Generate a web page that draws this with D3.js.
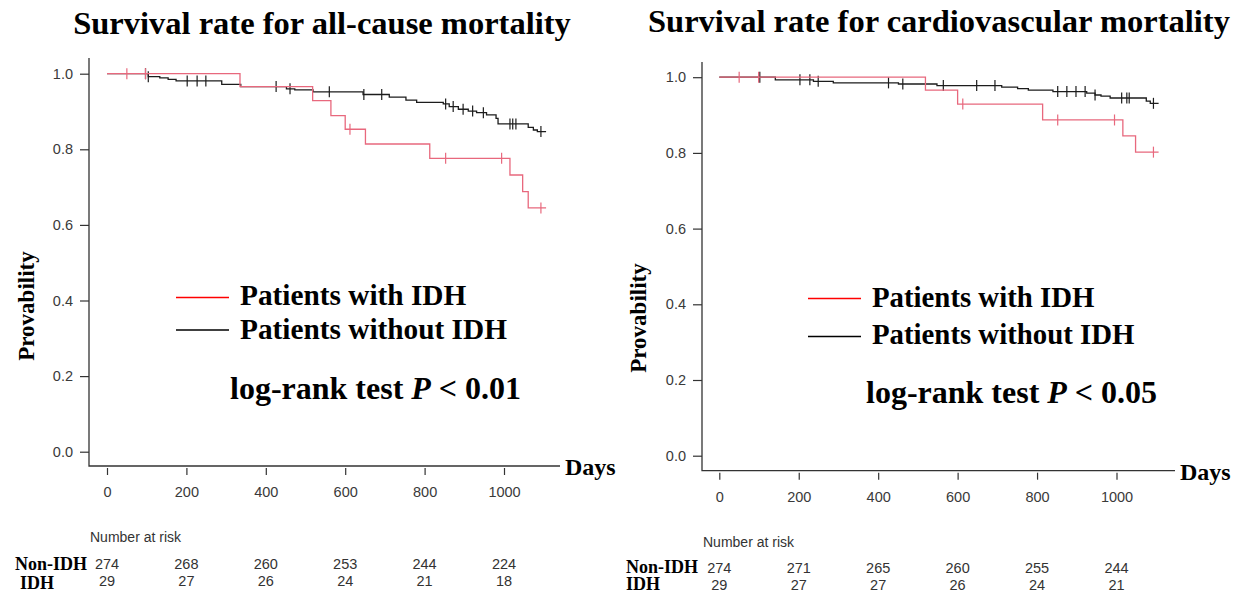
<!DOCTYPE html>
<html>
<head>
<meta charset="utf-8">
<script src="https://cdn.jsdelivr.net/npm/d3@7"></script>
<style>
  body { margin: 0; background: #fff; }
  svg { display: block; }
</style>
</head>
<body>
<svg id="km" width="1236" height="593"></svg>
<script>
// ---- data ----
const xTicks = [0, 200, 400, 600, 800, 1000];
const yTicks = [0, 0.2, 0.4, 0.6, 0.8, 1.0];
const followUpEnd = 1106;

// all-cause mortality: [day, survival after the step]
const allIdhSteps = [[0, 1], [335, 0.966], [518, 0.929], [564, 0.889], [600, 0.853], [651, 0.814],
  [813, 0.776], [1015, 0.732], [1047, 0.688], [1061, 0.645]];
const allIdhCensor = [50, 97, 612, 853, 994, 1093];
const allNonSteps = [[0, 1], [104, 0.992], [133, 0.989], [154, 0.985], [174, 0.981], [289, 0.972],
  [337, 0.966], [452, 0.960], [473, 0.957], [519, 0.952], [645, 0.945], [711, 0.938], [753, 0.930],
  [780, 0.924], [847, 0.920], [862, 0.913], [885, 0.906], [910, 0.901], [931, 0.897], [956, 0.891],
  [980, 0.882], [985, 0.867], [1061, 0.858], [1074, 0.851], [1084, 0.847]];
const allNonCensor = [97, 104, 202, 227, 249, 426, 461, 560, 647, 692, 853, 872, 897, 921, 948, 1015, 1022, 1030, 1093];
const allRiskNon = [274, 268, 260, 253, 244, 224];
const allRiskIdh = [29, 27, 26, 24, 21, 18];

// cardiovascular mortality
const cvIdhSteps = [[0, 1], [519, 0.966], [600, 0.929], [814, 0.887], [1016, 0.845], [1048, 0.802]];
const cvIdhCensor = [50, 99, 613, 852, 995, 1093];
const cvNonSteps = [[0, 1], [141, 0.993], [237, 0.989], [287, 0.985], [451, 0.982], [548, 0.978],
  [711, 0.974], [751, 0.970], [778, 0.966], [840, 0.962], [925, 0.958], [946, 0.953], [961, 0.950],
  [984, 0.945], [1075, 0.937], [1085, 0.931]];
const cvNonCensor = [102, 203, 228, 249, 426, 462, 564, 648, 694, 852, 875, 898, 921, 946, 1013, 1026, 1032, 1093];
const cvRiskNon = [274, 271, 265, 260, 255, 244];
const cvRiskIdh = [29, 27, 27, 26, 24, 21];

const legendLabels = ["Patients with IDH", "Patients without IDH"];
const groupLabels = ["Non-IDH", "IDH"];

const svg = d3.select("#km");
const serif = "'Liberation Serif', 'Times New Roman', serif";
const sans = "'Liberation Sans', Arial, sans-serif";
const redCurve = "#e8687d";
const blackCurve = "#1c1c1c";

const panels = [
  {
    title: "Survival rate for all-cause mortality", titleX: 322, titleY: 34,
    x0: 107, x1: 504, yTop: 73.7, yBot: 451.7,
    axisX: 89, axisTop: 58, axisY: 466, axisEnd: 560,
    idh: allIdhSteps, idhC: allIdhCensor, non: allNonSteps, nonC: allNonCensor,
    riskNon: allRiskNon, riskIdh: allRiskIdh,
    legX1: 176, legX2: 229, legY: [297.5, 330], legTextX: 240, legTextY: [305, 339],
    pText: "0.01", pX: 230, pY: 399, legSize: 29.3,
    ylabX: 34, ylabY: 306,
    nrY: 542, nameY: [570, 589], numY: [568.5, 585.5], nameX: [15, 20]
  },
  {
    title: "Survival rate for cardiovascular mortality", titleX: 939, titleY: 32,
    x0: 719.3, x1: 1116.5, yTop: 77.2, yBot: 455.7,
    axisX: 702, axisTop: 62, axisY: 470.7, axisEnd: 1175,
    idh: cvIdhSteps, idhC: cvIdhCensor, non: cvNonSteps, nonC: cvNonCensor,
    riskNon: cvRiskNon, riskIdh: cvRiskIdh,
    legX1: 808, legX2: 861, legY: [298.5, 336.5], legTextX: 872, legTextY: [307, 344],
    pText: "0.05", pX: 866, pY: 403, legSize: 28.8,
    ylabX: 646, ylabY: 318,
    nrY: 546.5, nameY: [572.5, 590], numY: [572.5, 589.5], nameX: [626, 626]
  }
];

function survAt(steps, day) {
  let s = steps[0][1];
  steps.forEach(d => { if (d[0] <= day) s = d[1]; });
  return s;
}

panels.forEach(p => {
  const g = svg.append("g");
  const x = d3.scaleLinear().domain([0, 1000]).range([p.x0, p.x1]);
  const y = d3.scaleLinear().domain([0, 1]).range([p.yBot, p.yTop]);

  // title
  g.append("text").attr("x", p.titleX).attr("y", p.titleY)
    .attr("text-anchor", "middle").attr("font-family", serif).attr("font-weight", "bold")
    .attr("font-size", "32.5px").attr("fill", "#000").text(p.title);

  // L shaped frame
  g.append("path")
    .attr("d", `M${p.axisX},${p.axisTop}V${p.axisY}H${p.axisEnd}`)
    .attr("fill", "none").attr("stroke", "#333").attr("stroke-width", 1.3);

  // y axis
  const yAxis = g.append("g").attr("transform", `translate(${p.axisX},0)`)
    .call(d3.axisLeft(y).tickValues(yTicks).tickFormat(d3.format(".1f")).tickSize(9).tickPadding(7));
  yAxis.select(".domain").remove();
  yAxis.selectAll("line").attr("stroke", "#333").attr("stroke-width", 1.2);
  yAxis.selectAll("text").attr("font-family", sans).attr("font-size", "14.5px").attr("fill", "#3a3a3a");

  // x axis (ticks hang below the frame)
  const xAxis = g.append("g").attr("transform", `translate(0,${p.axisY + 2})`)
    .call(d3.axisBottom(x).tickValues(xTicks).tickFormat(d3.format("d")).tickSize(7).tickPadding(12));
  xAxis.select(".domain").remove();
  xAxis.selectAll("line").attr("stroke", "#333").attr("stroke-width", 1.2);
  xAxis.selectAll("text").attr("font-family", sans).attr("font-size", "14.5px").attr("fill", "#3a3a3a");

  g.append("text").attr("x", p.axisEnd + 5).attr("y", p.axisY + 9)
    .attr("font-family", serif).attr("font-weight", "bold").attr("font-size", "24px")
    .attr("fill", "#000").text("Days");

  // y label
  g.append("text").attr("transform", `translate(${p.ylabX},${p.ylabY}) rotate(-90)`)
    .attr("text-anchor", "middle").attr("font-family", serif).attr("font-weight", "bold")
    .attr("font-size", "23px").attr("fill", "#000").text("Provability");

  // curves
  const line = d3.line().x(d => x(d[0])).y(d => y(d[1])).curve(d3.curveStepAfter);
  const curves = [
    { steps: p.non, cens: p.nonC, color: blackCurve },
    { steps: p.idh, cens: p.idhC, color: redCurve }
  ];
  curves.forEach(c => {
    const pts = c.steps.concat([[followUpEnd, c.steps[c.steps.length - 1][1]]]);
    g.append("path").datum(pts).attr("d", line)
      .attr("fill", "none").attr("stroke", c.color).attr("stroke-width", 1.3);
    g.selectAll(null).data(c.cens).enter().append("line")
      .attr("x1", d => x(d)).attr("x2", d => x(d))
      .attr("y1", d => y(survAt(c.steps, d)) - 5.5)
      .attr("y2", d => y(survAt(c.steps, d)) + 5.5)
      .attr("stroke", c.color).attr("stroke-width", 1.2);
  });

  // legend
  const legColors = ["#ff0000", "#000"];
  legendLabels.forEach((lab, i) => {
    g.append("line").attr("x1", p.legX1).attr("x2", p.legX2)
      .attr("y1", p.legY[i]).attr("y2", p.legY[i])
      .attr("stroke", legColors[i]).attr("stroke-width", 1.6);
    g.append("text").attr("x", p.legTextX).attr("y", p.legTextY[i])
      .attr("font-family", serif).attr("font-weight", "bold").attr("font-size", p.legSize + "px")
      .attr("fill", "#000").text(lab);
  });

  const pt = g.append("text").attr("x", p.pX).attr("y", p.pY)
    .attr("font-family", serif).attr("font-weight", "bold").attr("font-size", "32px").attr("fill", "#000");
  pt.append("tspan").text("log-rank test ");
  pt.append("tspan").attr("font-style", "italic").text("P");
  pt.append("tspan").text(" < " + p.pText);

  // number at risk table
  g.append("text").attr("x", p.axisX + 1).attr("y", p.nrY)
    .attr("font-family", sans).attr("font-size", "14px").attr("fill", "#333").text("Number at risk");
  [p.riskNon, p.riskIdh].forEach((row, r) => {
    g.append("text").attr("x", p.nameX[r]).attr("y", p.nameY[r])
      .attr("font-family", serif).attr("font-weight", "bold").attr("font-size", "18px")
      .attr("fill", "#000").text(groupLabels[r]);
    g.selectAll(null).data(row).enter().append("text")
      .attr("x", (d, i) => x(xTicks[i])).attr("y", p.numY[r])
      .attr("text-anchor", "middle").attr("font-family", sans).attr("font-size", "14.5px")
      .attr("fill", "#333").text(d => d);
  });
});
</script>
</body>
</html>
